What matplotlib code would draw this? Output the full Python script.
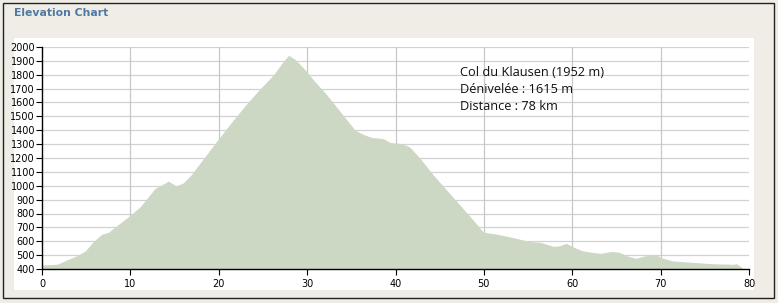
import matplotlib
matplotlib.use("Agg")
import matplotlib.pyplot as plt
from matplotlib.patches import Rectangle

# ---- data ----
dist_km = [0, 1.7, 2.8, 3.9, 4.9, 5.8, 6.75, 7.5, 8.8, 10, 11.1, 12.8, 13.3, 14.3,
           15.2, 16, 16.9, 18.2, 20, 21.6, 23.1, 24.6, 26.2, 27.3, 27.9, 28.6,
           29.6, 30.7, 32.2, 33.7, 35.4, 36.3, 37.3, 38.6, 39.4, 40.7, 41.6, 42.8,
           44.3, 45.8, 47.3, 48.8, 49.9, 50.5, 51.4, 53.2, 55.1, 56.4, 57.9, 58.6,
           59.3, 60.2, 61.1, 62.2, 63.2, 64.5, 65.3, 66.4, 67.2, 68.3, 69.5, 70.2,
           71.4, 72.9, 75.9, 78.2, 78.6, 79.2]
elevation_m = [429, 434, 465, 494, 530, 597, 650, 664, 729, 788, 848, 981, 997, 1033,
               999, 1021, 1080, 1190, 1340, 1470, 1586, 1693, 1800, 1895, 1940, 1912,
               1848, 1764, 1657, 1538, 1402, 1371, 1348, 1340, 1312, 1304, 1280, 1196,
               1076, 968, 860, 752, 668, 660, 652, 628, 599, 592, 563, 568,
               585, 556, 532, 520, 513, 527, 520, 491, 477, 496, 501, 479,
               458, 451, 438, 434, 438, 412]
x_ticks = [0, 10, 20, 30, 40, 50, 60, 70, 80]
y_ticks = list(range(400, 2001, 100))
title = "Elevation Chart"
info_lines = ["Col du Klausen (1952 m)", "Dénivelée : 1615 m", "Distance : 78 km"]

W, H = 778, 303
fig = plt.figure(figsize=(W / 100, H / 100), dpi=100)
fig.patch.set_facecolor("#f0ede7")

def fx(px):
    return px / W

def fy(py):
    return 1 - py / H

# outer border
fig.patches.append(Rectangle((fx(3), fy(298)), fx(771), (295) / H, transform=fig.transFigure,
                             fill=False, edgecolor="#222222", linewidth=1.0, zorder=-2))
# white panel
fig.patches.append(Rectangle((fx(14), fy(290)), fx(740), (252) / H, transform=fig.transFigure,
                             facecolor="white", edgecolor="none", zorder=-3))

fig.text(fx(14), fy(13), title, fontsize=7.8, fontweight="bold", color="#4f79a3",
         va="center", ha="left")

ax = fig.add_axes([fx(42), fy(269), fx(749 - 42), (269 - 47) / H])
ax.set_facecolor("white")
ax.fill_between(dist_km, elevation_m, 400, color="#ccd8c4", linewidth=0)
ax.set_xlim(0, 80)
ax.set_ylim(400, 2000)
ax.set_xticks(x_ticks)
ax.set_yticks(y_ticks)
for y in y_ticks[1:]:
    ax.axhline(y, color="#d2d2d2", linewidth=0.9, zorder=0)
for x in x_ticks[1:-1]:
    ax.axvline(x, color="#c8c8c8", linewidth=0.9, zorder=0)
ax.set_axisbelow(True)
for s in ["top", "right"]:
    ax.spines[s].set_visible(False)
for s in ["left", "bottom"]:
    ax.spines[s].set_color("black")
    ax.spines[s].set_linewidth(1.0)
ax.tick_params(axis="both", direction="out", length=4, width=0.8, labelsize=7,
               colors="black", pad=1)
ax.tick_params(axis="x", pad=3)

for i, line in enumerate(info_lines):
    fig.text(fx(460), fy(72 + i * 17.5), line, fontsize=9.2, family="Open Sans",
             va="center", ha="left", color="#111111")

fig.savefig("out.png", dpi=100, facecolor=fig.get_facecolor())
